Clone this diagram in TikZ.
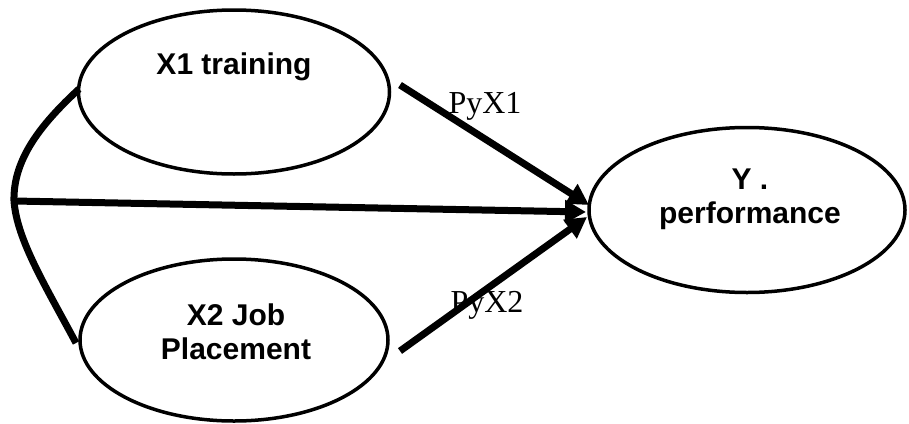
\documentclass[tikz,border=0pt]{standalone}
\usepackage{fontspec}
\setmainfont{Liberation Serif}
\newfontfamily\hsans{Liberation Sans}
\usetikzlibrary{shapes.geometric,arrows.meta}
\begin{document}
\begin{tikzpicture}[x=1pt,y=-1pt,
  var/.style={draw,line width=3.5pt,ellipse,inner sep=0pt},
  vtext/.style={font=\hsans\bfseries\fontsize{30}{34}\selectfont,align=center,inner sep=0pt},
  ptext/.style={font=\fontsize{32}{36}\selectfont,inner sep=0pt},
  path/.style={line width=7pt,-{Triangle[length=21pt,width=22pt]}},
  corr/.style={line width=7pt}]
\useasboundingbox (0,0) rectangle (909,423);
\node[var,minimum width=311pt,minimum height=164pt] (x1) at (234,92) {};
\node[var,minimum width=308pt,minimum height=162pt] (x2) at (234,340) {};
\node[var,minimum width=316pt,minimum height=165pt] (y) at (747,210) {};
\node[vtext] (t1) at (234,67) {X1 training};
\node[vtext] (t2) at (236,332) {X2 Job\\Placement};
\node[vtext] (t3) at (750,199) {Y .\\performance};
\node[ptext] (p1) at (485,106) {PyX1};
\node[ptext] (p2) at (487,305) {PyX2};
\coordinate (s1) at (400,85);
\coordinate (s2) at (400,351);
\coordinate (c0) at (14,201);
\coordinate (e1) at (589,205);
\coordinate (e0) at (586,212);
\coordinate (e2) at (587,217);
\coordinate (a1) at (79,89);
\coordinate (a2) at (76,343);
\draw[path] (s1) -- (e1);
\draw[path] (s2) -- (e2);
\draw[path] (c0) -- (e0);
\draw[corr] (a1) .. controls (40,125) and (13,160) .. (c0) .. controls (17,240) and (45,285) .. (a2);
\end{tikzpicture}
\end{document}
